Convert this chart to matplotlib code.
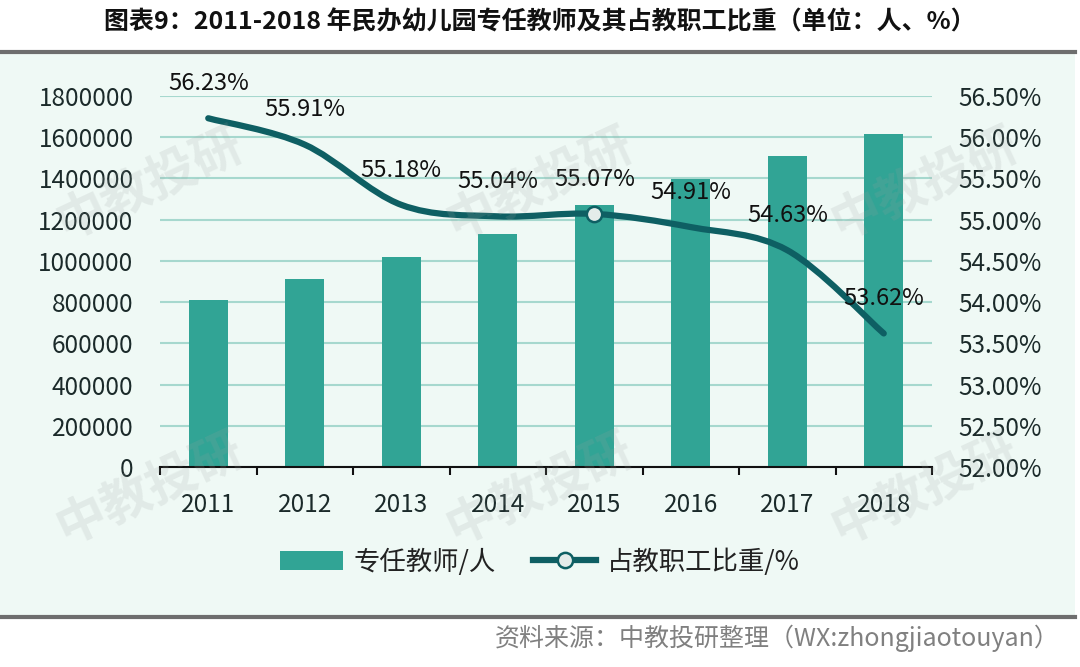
import numpy as np
import matplotlib
matplotlib.use("Agg")
import matplotlib.pyplot as plt
from matplotlib.path import Path
from matplotlib.patches import PathPatch, Rectangle, Patch
from matplotlib.lines import Line2D
from matplotlib.ticker import FuncFormatter, FixedLocator

plt.rcParams['font.family'] = ['Noto Sans CJK SC', 'DejaVu Sans']

years = ['2011', '2012', '2013', '2014', '2015', '2016', '2017', '2018']
teachers = [810000, 912000, 1019000, 1130000, 1271000, 1397000, 1509000, 1616000]
share = [56.23, 55.91, 55.18, 55.04, 55.07, 54.91, 54.63, 53.62]
left_ticks = [0, 200000, 400000, 600000, 800000, 1000000, 1200000, 1400000, 1600000, 1800000]
right_ticks = [52.0, 52.5, 53.0, 53.5, 54.0, 54.5, 55.0, 55.5, 56.0, 56.5]

title = '图表9：2011-2018 年民办幼儿园专任教师及其占教职工比重（单位：人、%）'
bar_label = '专任教师/人'
line_label = '占教职工比重/%'
source = '资料来源：中教投研整理（WX:zhongjiaotouyan）'
watermark = '中教投研'

BAR_C = '#31A495'
LINE_C = '#0E5F63'
GRID_C = '#A6D8CE'
BG_C = '#EFF9F5'
TXT_C = '#1B2A2A'

W, H = 1080, 667
fig = plt.figure(figsize=(W / 100, H / 100), dpi=100)
fig.patch.set_facecolor('white')

# background panel and separator lines
fig.add_artist(Rectangle((0, 1 - 617 / H), 1075 / W, (617 - 52) / H,
                         transform=fig.transFigure, facecolor=BG_C,
                         edgecolor='none', zorder=-10))
for yy in (52, 617):
    fig.add_artist(Line2D([0, 1075 / W], [1 - yy / H, 1 - yy / H],
                          transform=fig.transFigure, color='#6E6E6E',
                          lw=3, zorder=-5))

ax = fig.add_axes([160 / W, 1 - 467 / H, (932 - 160) / W, (467 - 96) / H])
ax.set_facecolor('none')
x = np.arange(len(years))
ax.bar(x, teachers, width=0.4, color=BAR_C, zorder=3)
ax.set_xlim(-0.5, len(years) - 0.5)
ax.set_ylim(left_ticks[0], left_ticks[-1])
ax.set_yticks(left_ticks)
ax.set_yticklabels([str(v) for v in left_ticks])
ax.yaxis.grid(True, color=GRID_C, lw=1.5, zorder=0)
ax.set_axisbelow(True)
for s in ('top', 'left', 'right'):
    ax.spines[s].set_visible(False)
ax.spines['bottom'].set_color('#111111')
ax.spines['bottom'].set_linewidth(1.5)
ax.spines['bottom'].set_zorder(5)
ax.set_xticks(x)
ax.set_xticklabels(years)
ax.xaxis.set_minor_locator(FixedLocator(np.arange(-0.5, len(years), 1.0)))
ax.tick_params(axis='x', which='major', length=0, pad=18, labelsize=17.5, labelcolor=TXT_C)
ax.tick_params(axis='x', which='minor', length=6, width=1.5, color='#111111', direction='out')
ax.tick_params(axis='y', length=0, pad=19, labelsize=17.5, labelcolor=TXT_C)

ax2 = ax.twinx()
ax2.set_ylim(right_ticks[0], right_ticks[-1])
ax2.set_yticks(right_ticks)
ax2.yaxis.set_major_formatter(FuncFormatter(lambda v, p: f'{v:.2f}%'))
ax2.tick_params(axis='y', length=0, pad=19, labelsize=17.5, labelcolor=TXT_C)
for s in ax2.spines.values():
    s.set_visible(False)

# smooth line (Catmull-Rom style Bezier, like Excel smoothed lines)
pts = np.column_stack([x, share]).astype(float)
ext = np.vstack([pts[0], pts, pts[-1]])
verts = [tuple(pts[0])]
codes = [Path.MOVETO]
for i in range(len(pts) - 1):
    p0, p1, p2, p3 = ext[i], ext[i + 1], ext[i + 2], ext[i + 3]
    c1 = p1 + (p2 - p0) / 6.0
    c2 = p2 - (p3 - p1) / 6.0
    verts += [tuple(c1), tuple(c2), tuple(p2)]
    codes += [Path.CURVE4] * 3
ax2.add_patch(PathPatch(Path(verts, codes), facecolor='none', edgecolor=LINE_C,
                        lw=4.5, capstyle='round', zorder=4))
ax2.plot([x[4]], [share[4]], 'o', ms=11, mfc='#E4ECEA', mec=LINE_C, mew=1.8, zorder=6)

for xi, v in zip(x, share):
    ax2.annotate(f'{v:.2f}%', (xi, v), xytext=(0, 25), textcoords='offset points',
                 ha='center', va='center', fontsize=17, color='#111111', zorder=7)

# title and source
fig.text(0.5, 1 - 22 / H, title, ha='center', va='center', fontsize=18,
         fontweight='bold', color='#111111')
fig.text(1060 / W, 1 - 638 / H, source, ha='right', va='center', fontsize=18,
         color='#808080')

# legend
handles = [Patch(facecolor=BAR_C, edgecolor='none'),
           Line2D([0], [0], color=LINE_C, lw=4.5, marker='o', ms=11,
                  mfc='#E4ECEA', mec=LINE_C, mew=1.8)]
leg = fig.legend(handles, [bar_label, line_label], loc='center',
                 bbox_to_anchor=(540 / W, 1 - 562 / H), ncol=2, frameon=False,
                 fontsize=19, handlelength=2.4, handleheight=0.7,
                 columnspacing=1.4, handletextpad=0.4)
for t in leg.get_texts():
    t.set_color('#222222')

# watermarks
for cx in (150, 540, 925):
    for cy in (185, 490):
        fig.text(cx / W, 1 - cy / H, watermark, ha='center', va='center',
                 rotation=25, fontsize=36, fontweight='bold', color='#9AA3A0',
                 alpha=0.17, zorder=20)

fig.savefig('out.png', dpi=100)
